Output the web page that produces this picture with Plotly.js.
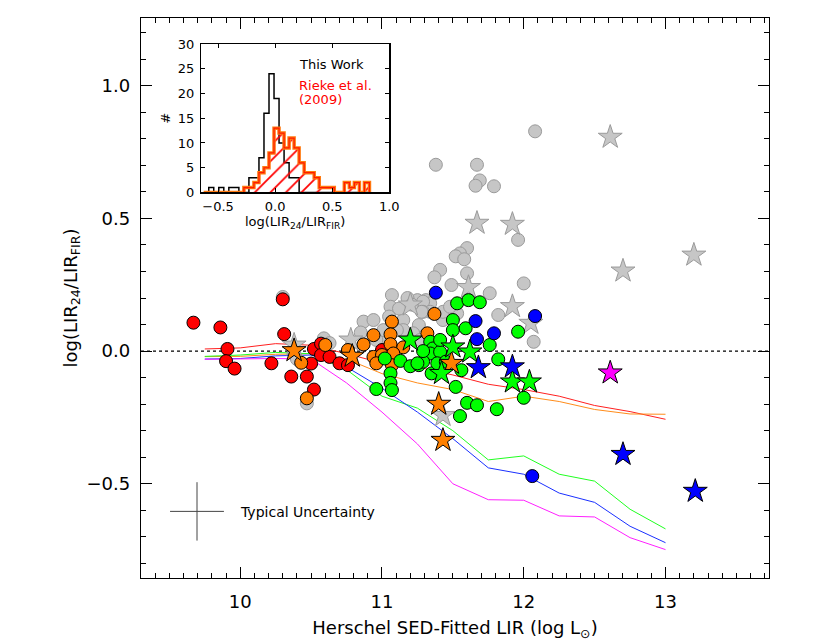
<!DOCTYPE html>
<html>
<head>
<meta charset="utf-8">
<script src="https://cdn.plot.ly/plotly-3.0.1.min.js"></script>
<style>html,body{margin:0;padding:0;background:#fff;}#chart{width:830px;height:642px;}</style>
</head>
<body>
<div id="chart"></div>
<script>
// ---------------- DATA ----------------
// Model curves
const lirGrid = [9.75,10.0,10.25,10.5,10.75,11.0,11.25,11.5,11.75,12.0,12.25,12.5,12.75,13.0];
const modelRed     = [0.008,0.012,0.028,0.022,-0.01,-0.045,-0.06,-0.09,-0.125,-0.145,-0.17,-0.205,-0.228,-0.257];
const modelOrange  = [-0.021,-0.02,-0.012,-0.01,-0.03,-0.085,-0.12,-0.145,-0.19,-0.17,-0.19,-0.22,-0.237,-0.238];
const modelGreen   = [-0.02,-0.015,-0.005,-0.01,-0.07,-0.17,-0.215,-0.3,-0.41,-0.395,-0.464,-0.49,-0.596,-0.67];
const modelBlue    = [-0.03,-0.028,-0.018,-0.015,-0.06,-0.14,-0.23,-0.33,-0.44,-0.464,-0.535,-0.57,-0.66,-0.722];
const modelMagenta = [-0.031,-0.03,-0.028,-0.03,-0.12,-0.23,-0.35,-0.5,-0.56,-0.562,-0.621,-0.625,-0.703,-0.748];

// Gray (full sample) circles
const grayCircX = [12.08,11.38,11.67,11.69,11.66,11.79,11.96,11.60,11.55,11.52,11.58,11.41,11.37,11.60,11.49,12.00,11.76,11.31,11.34,11.25,11.07,11.06,11.29,11.34,11.29,10.87,10.94,11.15,11.26,11.01,11.43,11.53,11.82,12.07,10.59,10.30,10.47,11.22,11.15,11.27,
                   11.105,11.01,10.96,11.28,11.43,11.48,11.12,11.18,10.85,11.05,11.21,10.63,10.40];
const grayCircY = [0.828,0.702,0.702,0.643,0.623,0.621,0.419,0.388,0.368,0.357,0.346,0.306,0.278,0.293,0.249,0.255,0.218,0.192,0.180,0.192,0.211,0.167,0.186,0.148,0.148,0.111,0.117,0.117,0.098,0.035,0.117,0.142,0.136,0.035,0.048,0.204,-0.197,0.067,0.079,0.042,
                   0.079,0.079,0.042,0.148,0.148,0.167,0.160,0.200,0.070,0.130,0.175,0.030,-0.030];
// Gray stars
const grayStarX = [12.61,12.70,13.20,11.67,11.92,11.61,11.92,12.05,11.20,10.78,10.38,11.43];
const grayStarY = [0.806,0.302,0.362,0.482,0.478,0.240,0.168,0.105,0.174,0.042,0.023,-0.242];

// Red circles
const redCircX = [9.67,9.86,10.30,10.31,9.91,9.90,9.96,10.22,10.36,10.47,10.52,10.52,10.57,10.57,10.63,10.50,10.70,10.76,11.00];
const redCircY = [0.107,0.089,0.195,0.064,0.008,-0.038,-0.066,-0.046,-0.096,-0.096,-0.145,0.008,0.028,-0.015,-0.022,-0.047,-0.046,-0.053,0.004];
// Orange circles
const orangeCircX = [10.43,10.47,10.60,10.76,10.87,10.94,10.94,11.07,11.06,11.06,11.00,11.15,11.08,11.07,11.32,11.37,10.96];
const orangeCircY = [-0.044,-0.178,0.023,0.004,0.025,0.060,-0.022,0.111,0.063,0.026,-0.015,0.014,-0.009,-0.053,0.067,0.140,-0.046];
// Orange stars
const orangeStarX = [10.38,10.79,11.49,11.40,11.43];
const orangeStarY = [0.002,-0.019,-0.046,-0.200,-0.336];
// Green circles
const greenCircX = [10.96,11.06,11.06,11.02,11.13,11.20,11.26,11.34,11.36,11.34,11.41,11.29,11.35,11.39,11.45,11.53,11.50,11.50,11.52,11.61,11.69,11.59,11.76,11.82,11.96,11.60,11.67,11.81,11.55,12.00,11.56,11.25,11.07,11.41,11.29];
const greenCircY = [-0.143,-0.084,-0.120,-0.028,-0.037,-0.057,-0.053,0.035,0.010,-0.009,-0.003,-0.040,-0.084,-0.046,-0.040,0.180,0.117,0.079,-0.135,0.192,0.184,0.086,0.023,-0.031,0.073,-0.195,-0.204,-0.219,-0.245,-0.176,-0.072,-0.046,-0.147,0.042,0.000];
// Green stars
const greenStarX = [11.20,11.42,11.50,11.62,11.92,12.04];
const greenStarY = [0.042,-0.084,0.016,-0.003,-0.116,-0.116];
// Blue circles
const blueCircX = [11.38,11.66,11.67,11.79,12.08,12.06];
const blueCircY = [0.220,0.113,0.045,0.067,0.132,-0.471];
// Blue stars
const blueStarX = [11.68,11.92,12.70,13.21];
const blueStarY = [-0.062,-0.059,-0.389,-0.528];
// Magenta star
const magentaStarX = [12.61];
const magentaStarY = [-0.082];

// Typical uncertainty cross
const uncertX = [9.695];
const uncertY = [-0.604];
const uncertErrX = 0.19;
const uncertErrY = 0.11;

// Inset histograms: log(LIR24/LIRFIR)
const histBinStart = -0.626;
const histBinWidth = 0.044;
const countsThisWork = [0,1,0,1,0,1,1,0,0,3,3,7,16,24,19,10,6,3,3,0,0,0,0,0,0,0,0,0,0,0,0,0,0];
const countsRieke    = [0,0,0,0,0,0,0,0,1,1,2,4,5,8,13,12,9,11,9,6,4,4,3,1,1,1,0,0,2,1,2,0,2];

// ---------------- BUILD ----------------
function stepXY(counts){
  const xs=[], ys=[];
  xs.push(histBinStart); ys.push(0);
  for(let k=0;k<counts.length;k++){ xs.push(histBinStart+k*histBinWidth); ys.push(counts[k]); }
  xs.push(histBinStart+counts.length*histBinWidth); ys.push(0);
  return {x:xs,y:ys};
}
const bw = stepXY(countsThisWork);
const rk = stepXY(countsRieke);

const FONT = 'DejaVu Sans, Arial, sans-serif';
const CIRC = 13, STAR = 18;

function modelLine(y,color){
  return {x:lirGrid,y:y,type:'scatter',mode:'lines',line:{color:color,width:1},hoverinfo:'skip',showlegend:false,xaxis:'x',yaxis:'y'};
}
function pts(x,y,symbol,size,fill,edge){
  return {x:x,y:y,type:'scatter',mode:'markers',marker:{symbol:symbol,size:size,color:fill,line:{color:edge,width:1}},showlegend:false,xaxis:'x',yaxis:'y'};
}

const traces = [
  modelLine(modelRed,'#ff2020'),
  modelLine(modelOrange,'#ff8c1a'),
  modelLine(modelGreen,'#20ff20'),
  modelLine(modelBlue,'#1a30ff'),
  modelLine(modelMagenta,'#ff20ff'),
  pts(grayCircX,grayCircY,'circle',CIRC,'#c6c6c6','#9a9a9a'),
  pts(grayStarX,grayStarY,'star',STAR,'#c6c6c6','#9a9a9a'),
  pts(redCircX,redCircY,'circle',CIRC,'#ff0000','#000'),
  pts(orangeCircX,orangeCircY,'circle',CIRC,'#ff8000','#000'),
  pts(greenCircX,greenCircY,'circle',CIRC,'#00ff00','#000'),
  pts(blueCircX,blueCircY,'circle',CIRC,'#0000ff','#000'),
  pts(orangeStarX,orangeStarY,'star',STAR,'#ff8000','#000'),
  pts(greenStarX,greenStarY,'star',STAR,'#00ff00','#000'),
  pts(blueStarX,blueStarY,'star',STAR,'#0000ff','#000'),
  pts(magentaStarX,magentaStarY,'star',STAR,'#ff00ff','#000'),
  {x:uncertX,y:uncertY,type:'scatter',mode:'markers',marker:{size:1,color:'rgba(0,0,0,0)'},
   error_x:{type:'constant',value:uncertErrX,width:0,thickness:1,color:'#444'},
   error_y:{type:'constant',value:uncertErrY,width:0,thickness:1,color:'#444'},showlegend:false,xaxis:'x',yaxis:'y'},
  // inset
  {x:bw.x,y:bw.y,type:'scatter',mode:'lines',line:{shape:'hv',color:'#000',width:1.5},showlegend:false,xaxis:'x2',yaxis:'y2'},
  {x:rk.x,y:rk.y,type:'scatter',mode:'lines',fill:'tozeroy',fillcolor:'rgba(0,0,0,0)',
   fillpattern:{shape:'/',fgcolor:'#ff0000',bgcolor:'rgba(0,0,0,0)',size:11,solidity:0.16},
   line:{shape:'hv',color:'#ff7a10',width:3.5},showlegend:false,xaxis:'x2',yaxis:'y2'},
  {x:rk.x,y:rk.y,type:'scatter',mode:'lines',line:{shape:'hv',color:'#ff1a00',width:1.2},showlegend:false,xaxis:'x2',yaxis:'y2'}
];

const layout = {
  width:830, height:642,
  margin:{l:141,r:61,t:18,b:64},
  paper_bgcolor:'#fff', plot_bgcolor:'#fff',
  font:{family:FONT,color:'#000'},
  showlegend:false,
  xaxis:{range:[9.3,13.73],showgrid:false,zeroline:false,ticks:'inside',ticklen:11,tickwidth:1,tickcolor:'#000',
    dtick:1,tick0:10,showline:true,linecolor:'#000',linewidth:1.3,mirror:'ticks',
    minor:{dtick:0.1,ticklen:5,ticks:'inside',tickcolor:'#000',showgrid:false},
    tickfont:{size:18,family:FONT},ticklabelstandoff:7,
    title:{text:'Herschel SED-Fitted LIR (log L<sub>⊙</sub>)',font:{size:18,family:FONT},standoff:10}},
  yaxis:{range:[-0.855,1.255],showgrid:false,zeroline:false,ticks:'inside',ticklen:11,tickwidth:1,tickcolor:'#000',
    dtick:0.5,tick0:0,tickformat:'.1f',showline:true,linecolor:'#000',linewidth:1.3,mirror:'ticks',
    minor:{dtick:0.1,ticklen:5,ticks:'inside',tickcolor:'#000',showgrid:false},
    tickfont:{size:18,family:FONT},ticklabelstandoff:6,
    title:{text:'log(LIR<sub>24</sub>/LIR<sub>FIR</sub>)',font:{size:18,family:FONT},standoff:4}},
  xaxis2:{domain:[0.0955,0.3954],anchor:'y2',range:[-0.65,1.0],showgrid:false,zeroline:false,
    ticks:'inside',ticklen:4,tickcolor:'#000',dtick:0.5,tick0:0,tickformat:'.1f',showline:true,linecolor:'#000',linewidth:1.2,mirror:'ticks',
    tickfont:{size:13,family:FONT},ticklabelstandoff:2,
    title:{text:'log(LIR<sub>24</sub>/LIR<sub>FIR</sub>)',font:{size:13,family:FONT},standoff:2}},
  yaxis2:{domain:[0.6884,0.9536],anchor:'x2',range:[0,30],showgrid:false,zeroline:false,
    ticks:'inside',ticklen:4,tickcolor:'#000',dtick:5,tick0:0,showline:true,linecolor:'#000',linewidth:1.2,mirror:'ticks',
    tickfont:{size:13,family:FONT},ticklabelstandoff:3,
    title:{text:'#',font:{size:13,family:FONT},standoff:4}},
  shapes:[
    {type:'line',xref:'paper',yref:'y',x0:0,x1:1,y0:0,y1:0,line:{color:'#000',width:1.2,dash:'dot'},layer:'below'}
  ],
  annotations:[
    {x:9.985,y:-0.608,xref:'x',yref:'y',text:'Typical Uncertainty',showarrow:false,xanchor:'left',yanchor:'middle',font:{size:14,family:FONT,color:'#000'}},
    {x:0.19,y:25.8,xref:'x2',yref:'y2',text:'This Work',showarrow:false,xanchor:'left',yanchor:'middle',font:{size:13,family:FONT,color:'#000'}},
    {x:0.19,y:21.7,xref:'x2',yref:'y2',text:'Rieke et al.',showarrow:false,xanchor:'left',yanchor:'middle',font:{size:13,family:FONT,color:'#ff0000'}},
    {x:0.19,y:18.7,xref:'x2',yref:'y2',text:'(2009)',showarrow:false,xanchor:'left',yanchor:'middle',font:{size:13,family:FONT,color:'#ff0000'}}
  ]
};

Plotly.newPlot('chart',traces,layout,{staticPlot:true,displayModeBar:false});
</script>
</body>
</html>
